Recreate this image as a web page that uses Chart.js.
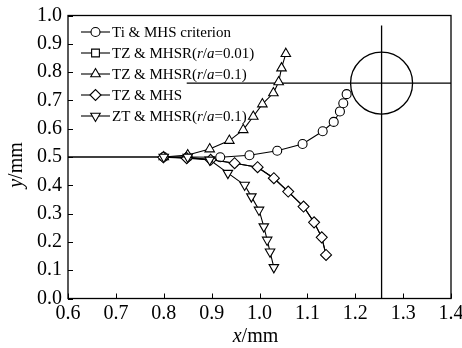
<!DOCTYPE html>
<html>
<head>
<meta charset="utf-8">
<script src="https://cdn.jsdelivr.net/npm/chart.js@4.4.1/dist/chart.umd.min.js"></script>
<style>
  html, body { margin: 0; padding: 0; background: #fff; }
  #wrap { width: 462px; height: 348px; }
</style>
</head>
<body>
<div id="wrap"><canvas id="chart" width="462" height="348"></canvas></div>
<script>
// legend labels, _x_ marks italic text
const seriesLabels = [
  "Ti & MHS criterion",
  "TZ & MHSR(_r_/_a_=0.01)",
  "TZ & MHSR(_r_/_a_=0.1)",
  "TZ & MHS",
  "ZT & MHSR(_r_/_a_=0.1)"
];

const tiMhsX = [0.80, 0.85, 0.918, 0.979, 1.037, 1.090, 1.132, 1.155, 1.168, 1.175, 1.182];
const tiMhsY = [0.50, 0.50, 0.499, 0.506, 0.522, 0.546, 0.591, 0.624, 0.661, 0.690, 0.722];

const tzR001X = [0.80, 0.85, 0.90, 0.948, 0.996, 1.030, 1.060, 1.092, 1.114, 1.130, 1.139];
const tzR001Y = [0.50, 0.497, 0.491, 0.478, 0.464, 0.425, 0.378, 0.325, 0.269, 0.216, 0.154];

const tzR01X = [0.80, 0.85, 0.896, 0.937, 0.966, 0.987, 1.006, 1.029, 1.040, 1.046, 1.055];
const tzR01Y = [0.50, 0.507, 0.528, 0.558, 0.596, 0.643, 0.687, 0.726, 0.765, 0.814, 0.865];

const tzMhsX = [0.799, 0.848, 0.898, 0.948, 0.996, 1.030, 1.060, 1.092, 1.114, 1.130, 1.139];
const tzMhsY = [0.499, 0.496, 0.490, 0.478, 0.464, 0.425, 0.378, 0.325, 0.269, 0.216, 0.154];

const ztR01X = [0.80, 0.85, 0.896, 0.934, 0.969, 0.983, 0.999, 1.009, 1.016, 1.022, 1.030];
const ztR01Y = [0.50, 0.50, 0.490, 0.443, 0.401, 0.360, 0.313, 0.254, 0.207, 0.165, 0.110];

// crack line, hole axes and hole
const crackX = [0.6, 0.8];
const crackY = [0.5, 0.5];
const holeHX = [0.848, 1.4];
const holeHY = [0.761, 0.761];
const holeVX = [1.255, 1.255];
const holeVY = [0.0, 0.965];
const holeCenter = [1.255, 0.761];

const xTicks = [0.6, 0.7, 0.8, 0.9, 1.0, 1.1, 1.2, 1.3, 1.4];
const yTicks = [0.0, 0.1, 0.2, 0.3, 0.4, 0.5, 0.6, 0.7, 0.8, 0.9, 1.0];

const FONT = "'Liberation Serif', 'Times New Roman', serif";

function pts(xs, ys) {
  return xs.map((x, i) => ({ x: x, y: ys[i] }));
}

const markers = [
  { pointStyle: "circle", rotation: 0, radius: 4.5 },
  { pointStyle: "rect", rotation: 0, radius: 3.5 },
  { pointStyle: "triangle", rotation: 0, radius: 5.5 },
  { pointStyle: "rectRot", rotation: 0, radius: 5.5 },
  { pointStyle: "triangle", rotation: 180, radius: 5.5 }
];

const seriesData = [
  pts(tiMhsX, tiMhsY),
  pts(tzR001X, tzR001Y),
  pts(tzR01X, tzR01Y),
  pts(tzMhsX, tzMhsY),
  pts(ztR01X, ztR01Y)
];

const drawOrder = [4, 5, 3, 2, 1];

const datasets = seriesData.map((d, i) => ({
  label: seriesLabels[i],
  data: d,
  showLine: true,
  borderColor: "#000",
  borderWidth: 1.1,
  backgroundColor: "#fff",
  pointBackgroundColor: "#fff",
  pointBorderColor: "#000",
  pointBorderWidth: 1.1,
  pointStyle: markers[i].pointStyle,
  rotation: markers[i].rotation,
  pointRadius: markers[i].radius,
  order: drawOrder[i]
}));

const guide = (xs, ys) => ({
  label: "",
  data: pts(xs, ys),
  showLine: true,
  borderColor: "#000",
  borderWidth: 1.3,
  pointRadius: 0,
  order: 10
});

datasets.push(guide(crackX, crackY));
datasets.push(guide(holeHX, holeHY));
datasets.push(guide(holeVX, holeVY));
datasets.push({
  label: "",
  data: [{ x: holeCenter[0], y: holeCenter[1] }],
  showLine: false,
  pointStyle: "circle",
  pointRadius: 31,
  pointBorderWidth: 1.3,
  pointBorderColor: "#000",
  pointBackgroundColor: "rgba(0,0,0,0)",
  order: 10
});

// text with _italic_ parts
function drawRich(ctx, text, x, y, size, align) {
  const parts = text.split("_");
  let total = 0;
  parts.forEach((p, i) => {
    ctx.font = (i % 2 ? "italic " : "") + size + "px " + FONT;
    total += ctx.measureText(p).width;
  });
  let cx = align === "center" ? x - total / 2 : x;
  ctx.textAlign = "left";
  ctx.textBaseline = "middle";
  parts.forEach((p, i) => {
    ctx.font = (i % 2 ? "italic " : "") + size + "px " + FONT;
    ctx.fillText(p, cx, y);
    cx += ctx.measureText(p).width;
  });
}

const framePlugin = {
  id: "frame",
  afterDraw(chart) {
    const ctx = chart.ctx;
    const a = chart.chartArea;
    const xs = chart.scales.x, ys = chart.scales.y;
    ctx.save();
    ctx.strokeStyle = "#000";
    ctx.lineWidth = 1.3;
    ctx.strokeRect(a.left, a.top, a.right - a.left, a.bottom - a.top);
    ctx.lineWidth = 1;
    ctx.beginPath();
    xTicks.forEach(v => {
      const px = Math.round(xs.getPixelForValue(v)) + 0.5;
      ctx.moveTo(px, a.bottom);
      ctx.lineTo(px, a.bottom - 5);
    });
    yTicks.forEach(v => {
      const py = Math.round(ys.getPixelForValue(v)) + 0.5;
      ctx.moveTo(a.left, py);
      ctx.lineTo(a.left + 5, py);
    });
    ctx.stroke();

    // legend
    ctx.fillStyle = "#000";
    seriesLabels.forEach((lab, i) => {
      const ly = 32 + i * 21;
      ctx.beginPath();
      ctx.moveTo(81, ly);
      ctx.lineTo(110, ly);
      ctx.lineWidth = 1.1;
      ctx.strokeStyle = "#000";
      ctx.stroke();
      ctx.fillStyle = "#fff";
      Chart.helpers.drawPoint(ctx, {
        pointStyle: markers[i].pointStyle,
        rotation: markers[i].rotation,
        radius: i === 1 ? 5.5 : markers[i].radius,
        borderWidth: 1.1
      }, 95.5, ly);
      ctx.fillStyle = "#000";
      drawRich(ctx, lab, 112, ly + 1, 15, "left");
    });

    // axis titles
    drawRich(ctx, "_x_/mm", (a.left + a.right) / 2 - 4, 337, 20, "center");
    ctx.translate(17, 165);
    ctx.rotate(-Math.PI / 2);
    drawRich(ctx, "_y_/mm", 0, 0, 20, "center");
    ctx.restore();
  }
};

function noPad(s) {
  s.paddingLeft = 0;
  s.paddingRight = 0;
  s.paddingTop = 0;
  s.paddingBottom = 0;
}

new Chart(document.getElementById("chart"), {
  type: "scatter",
  data: { datasets: datasets },
  options: {
    responsive: false,
    animation: false,
    layout: { autoPadding: false, padding: { top: 15.5, right: 11, left: 0, bottom: 0 } },
    plugins: { legend: { display: false }, tooltip: { enabled: false } },
    scales: {
      x: {
        type: "linear",
        min: 0.6,
        max: 1.4,
        afterBuildTicks: s => { s.ticks = xTicks.map(v => ({ value: v })); },
        afterFit: s => { s.height = 49.5; noPad(s); },
        grid: { display: false, drawTicks: false },
        border: { display: false },
        ticks: {
          color: "#000",
          padding: 3,
          maxRotation: 0,
          autoSkip: false,
          font: { family: FONT, size: 20 },
          callback: v => Number(v).toFixed(1)
        }
      },
      y: {
        type: "linear",
        min: 0,
        max: 1,
        afterBuildTicks: s => { s.ticks = yTicks.map(v => ({ value: v })); },
        afterFit: s => { s.width = 68; noPad(s); },
        grid: { display: false, drawTicks: false },
        border: { display: false },
        ticks: {
          color: "#000",
          padding: 6,
          autoSkip: false,
          font: { family: FONT, size: 20 },
          callback: v => Number(v).toFixed(1)
        }
      }
    }
  },
  plugins: [framePlugin]
});
</script>
</body>
</html>
